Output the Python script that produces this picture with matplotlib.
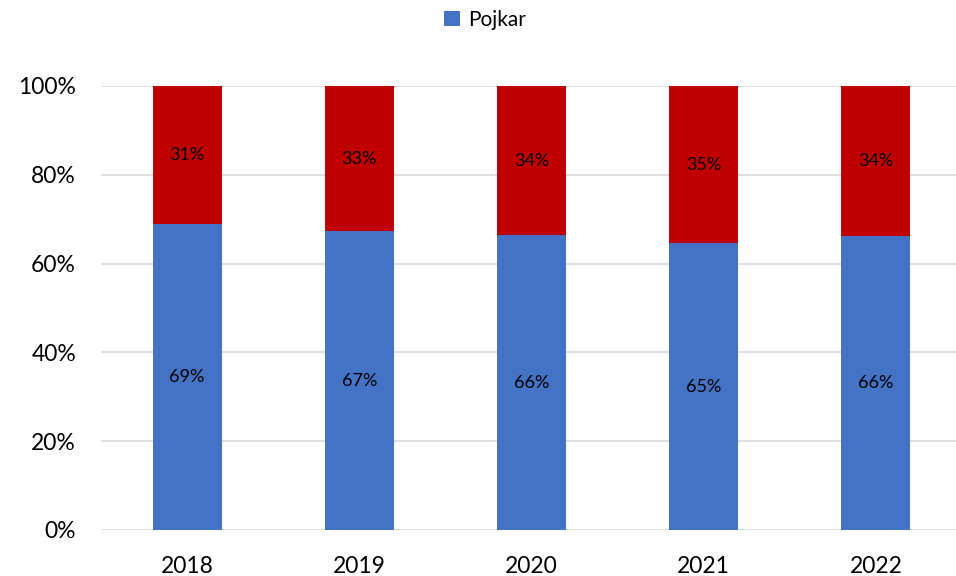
import numpy as np
import matplotlib
matplotlib.use("Agg")
import matplotlib.pyplot as plt
from matplotlib.ticker import PercentFormatter

plt.rcParams['font.family'] = ['Lato', 'DejaVu Sans']

years = ["2018", "2019", "2020", "2021", "2022"]
pojkar = [0.69, 0.673, 0.664, 0.646, 0.662]
flickor = [0.31, 0.327, 0.336, 0.354, 0.338]
pojkar_labels = ["69%", "67%", "66%", "65%", "66%"]
flickor_labels = ["31%", "33%", "34%", "35%", "34%"]

blue = "#4472C4"
red = "#C00000"

fig = plt.figure(figsize=(9.56, 5.76), dpi=100)
W, H = 956, 576
ax = fig.add_axes([101 / W, 46 / H, 861 / W, 444 / H])

x = np.arange(len(years))
b1 = ax.bar(x, pojkar, width=0.4, color=blue, label="Pojkar", zorder=3)
b2 = ax.bar(x, flickor, width=0.4, bottom=pojkar, color=red, label="_nolegend_", zorder=3)

ax.bar_label(b1, labels=pojkar_labels, label_type="center", fontsize=13, color="black")
ax.bar_label(b2, labels=flickor_labels, label_type="center", fontsize=13, color="black")

ax.set_xlim(-0.5, len(years) - 0.5)
ax.set_ylim(0, 1)
ax.set_yticks(np.arange(0, 1.01, 0.2))
ax.yaxis.set_major_formatter(PercentFormatter(1.0, decimals=0))
ax.set_xticks(x)
ax.set_xticklabels(years)
ax.tick_params(axis="both", length=0, labelsize=16.5, colors="black")
ax.tick_params(axis="x", pad=19)
ax.tick_params(axis="y", pad=18)
ax.grid(axis="y", color="#D9D9D9", linewidth=1.2, zorder=0)
for s in ax.spines.values():
    s.set_visible(False)

fig.legend(loc="center", bbox_to_anchor=(485 / W, 1 - 20 / H), frameon=False,
           fontsize=15, handlelength=0.75, handleheight=0.75, handletextpad=0.4)

fig.savefig("out.png", dpi=100)
